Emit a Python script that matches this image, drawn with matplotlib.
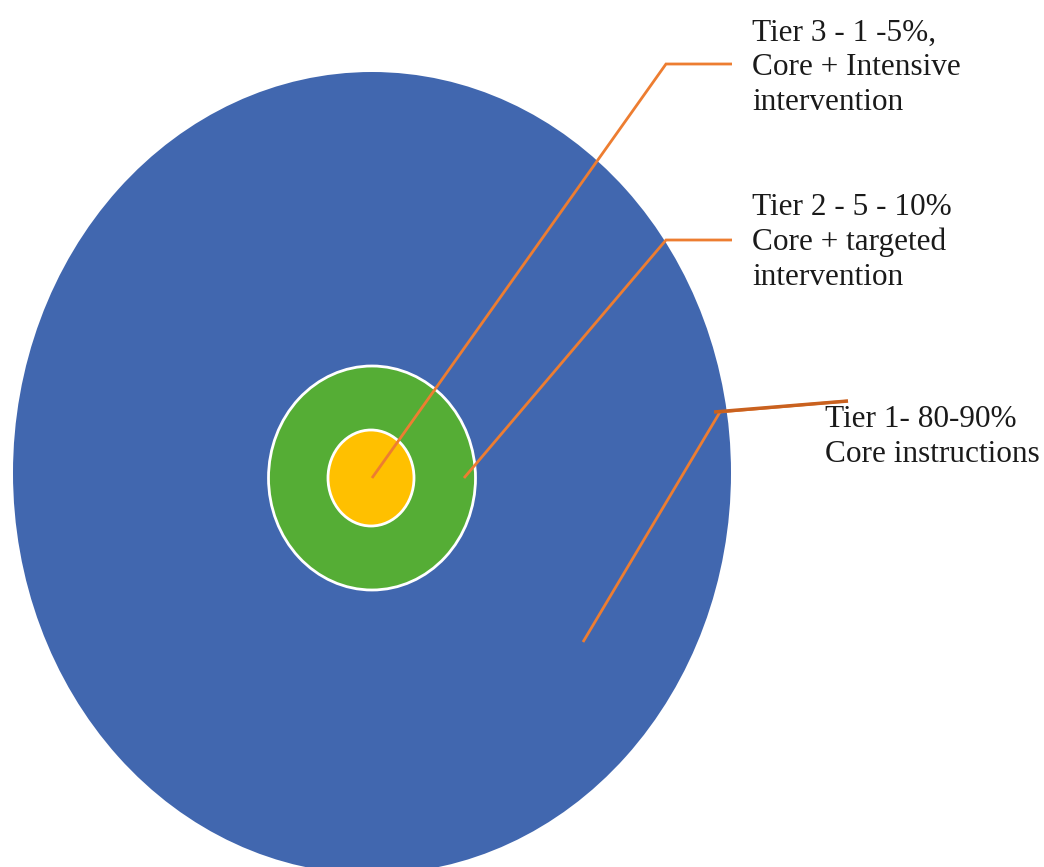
import matplotlib
matplotlib.use("Agg")
import matplotlib.pyplot as plt
from matplotlib.patches import Ellipse

# Tier content (outer to inner)
tiers = ["Tier 1", "Tier 2", "Tier 3"]
tier_labels = [
    "Tier 1- 80-90%\nCore instructions",
    "Tier 2 - 5 - 10%\nCore + targeted\nintervention",
    "Tier 3 - 1 -5%,\nCore + Intensive\nintervention",
]
tier_colors = ["#4167af", "#55ad35", "#ffc000"]

# Layout in pixel coordinates (origin top-left)
W, H = 1044, 867
rings = {  # centre x, centre y, width, height
    "Tier 1": (372, 473, 718, 802),
    "Tier 2": (372, 478, 207, 224),
    "Tier 3": (371, 478, 86, 96),
}
leaders = {  # polyline points for each callout
    "Tier 1": [(583, 642), (720, 412), (848, 401)],
    "Tier 2": [(464, 478), (666, 240), (732, 240)],
    "Tier 3": [(372, 478), (666, 64), (732, 64)],
}
leader_colors = {"Tier 1": "#ed7d31", "Tier 2": "#ed7d31", "Tier 3": "#ed7d31"}
label_pos = {  # left edge and baseline of last text line
    "Tier 1": (825, 462),
    "Tier 2": (752, 285),
    "Tier 3": (752, 110),
}

fig = plt.figure(figsize=(W / 100, H / 100), dpi=100)
ax = fig.add_axes([0, 0, 1, 1])
ax.set_xlim(0, W)
ax.set_ylim(H, 0)
ax.set_aspect("auto")
ax.axis("off")

for name, color in zip(tiers, tier_colors):
    cx, cy, w, h = rings[name]
    edge = "none" if name == "Tier 1" else "white"
    ax.add_patch(Ellipse((cx, cy), w, h, facecolor=color, edgecolor=edge,
                         linewidth=2.0, zorder=1))

for name in tiers:
    pts = leaders[name]
    xs = [p[0] for p in pts]
    ys = [p[1] for p in pts]
    ax.plot(xs, ys, color=leader_colors[name], linewidth=2.0, zorder=3,
            solid_joinstyle="miter", solid_capstyle="butt")

# the outer callout's arm is drawn a shade darker
p1, p2 = leaders["Tier 1"][1], leaders["Tier 1"][2]
ax.plot([p1[0] - 6, p2[0]], [p1[1], p2[1]], color="#c9611f", linewidth=2.5,
        zorder=3, solid_capstyle="butt")

for name, text in zip(tiers, tier_labels):
    x, y = label_pos[name]
    ax.text(x, y, text, ha="left", va="baseline", fontsize=22.5,
            family="Liberation Serif", color="#1a1a1a", linespacing=1.26,
            zorder=4)

fig.savefig("out.png", dpi=100, facecolor="white")
